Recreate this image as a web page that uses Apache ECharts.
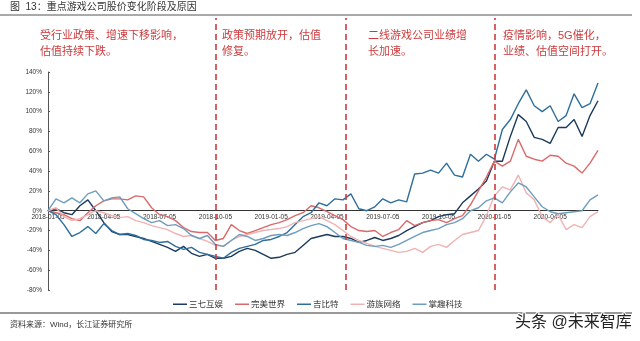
<!DOCTYPE html>
<html>
<head>
<meta charset="utf-8">
<script src="https://cdn.jsdelivr.net/npm/echarts@6/dist/echarts.min.js"></script>
<style>
  html, body { margin: 0; padding: 0; background: #ffffff; }
  #chart { width: 640px; height: 341px; }
</style>
</head>
<body>
<div id="chart"></div>
<script>
// 横轴：每 7 个点为一个季度
var quarterLabels = ['2018-01-05', '2018-04-05', '2018-07-05', '2018-10-05', '2019-01-05',
  '2019-04-05', '2019-07-05', '2019-10-05', '2020-01-05', '2020-04-05'];
var pointsPerQuarter = 7;
var lastIndex = 69;
var yMin = -80, yMax = 140;

var seriesNames = ['三七互娱', '完美世界', '吉比特', '游族网络', '掌趣科技'];
var seriesColors = ['#1c3b5c', '#d96a6b', '#2f6e9c', '#f0b2b2', '#6e9dbd'];

// 涨跌幅 %
var sanqi = [0, 2, -2, -4, 5, 11, 0, -12, -21, -24, -24, -26, -28, -31, -34, -37, -41, -36, -43, -46,
  -44, -48, -48, -46, -41, -38, -40, -44, -48, -47, -44, -42, -35, -28, -26, -24, -26, -26, -28, -32,
  -30, -27, -30, -28, -25, -20, -16, -12, -10, -6, -4, -3, 8, 15, 22, 30, 50, 50, 75, 97,
  90, 74, 72, 68, 84, 84, 92, 75, 96, 111];
var wanmei = [0, -2, -4, -8, -10, -2, 5, 10, 12, 12, 11, 15, 14, 3, -4, -6, -10, -17, -21, -22,
  -22, -30, -28, -14, -20, -23, -20, -17, -14, -12, -9, -5, -2, 5, 3, -1, -5, -9, -16, -20,
  -21, -20, -26, -22, -19, -10, -15, -12, -10, -9, -12, -8, -5, 6, 20, 34, 50, 45, 50, 72,
  55, 52, 50, 56, 55, 48, 45, 38, 48, 61];
var jibite = [0, -4, -14, -26, -22, -16, -23, -13, -20, -24, -23, -25, -29, -30, -32, -31, -36, -39, -37, -42,
  -44, -46, -48, -42, -38, -36, -34, -30, -29, -26, -22, -14, -6, -2, 8, 5, 12, 11, 17, 2,
  0, 4, 12, 8, 11, 9, 37, 38, 41, 38, 48, 36, 34, 57, 50, 57, 52, 82, 92, 108,
  122, 106, 100, 106, 90, 96, 118, 104, 108, 129];
var youzu = [0, 3, -6, -10, -8, -4, 0, -2, -5, -7, -6, -10, -12, -15, -17, -19, -23, -26, -25, -28,
  -31, -35, -36, -30, -26, -24, -22, -20, -19, -18, -16, -12, -10, -8, -6, -10, -14, -20, -26, -30,
  -33, -36, -38, -40, -42, -41, -38, -42, -36, -34, -37, -30, -24, -22, -20, -5, 15, 24, 21, 36,
  18, 11, -6, -12, -4, -19, -14, -17, -6, -1];
var zhangqu = [0, 12, 8, 13, 8, 17, 20, 10, 13, 14, 2, -3, -8, -12, -10, -15, -14, -18, -25, -28,
  -25, -34, -36, -30, -24, -26, -30, -28, -25, -24, -25, -22, -18, -15, -13, -16, -22, -28, -30, -32,
  -35, -36, -35, -37, -34, -30, -26, -22, -20, -18, -14, -12, -8, 0, 3, 10, 13, 8, 19, 28,
  24, 14, 4, -1, -3, -2, -1, 0, 11, 16];
var seriesValues = [sanqi, wanmei, jibite, youzu, zhangqu];

// 阶段分界（横轴位置）
var dividers = [21, 37.3, 56];
var stageTexts = [
  '受行业政策、增速下移影响，\n估值持续下跌。',
  '政策预期放开，估值\n修复。',
  '二线游戏公司业绩增\n长加速。',
  '疫情影响，5G催化，\n业绩、估值空间打开。'
];
var stageTextX = [40, 222, 368, 503];

var red = '#cc3b3d';
var font = "'Liberation Sans', 'Noto Sans CJK SC', sans-serif";
var gridTop = 72, gridBottom = 51, chartHeight = 341;
// 横轴标签放在 0% 线处
var plotHeight = chartHeight - gridTop - gridBottom;
var zeroOffset = plotHeight * (0 - yMin) / (yMax - yMin);

var series = seriesNames.map(function (name, k) {
  return {
    name: name,
    type: 'line',
    symbol: 'none',
    data: seriesValues[k].map(function (v, i) { return [i, v]; }),
    lineStyle: { width: 1.4, color: seriesColors[k] },
    itemStyle: { color: seriesColors[k] },
    z: 3
  };
});
// 分界虚线（第二个 grid，向上延伸到标题线下）
series.push({
  type: 'line',
  xAxisIndex: 1,
  yAxisIndex: 1,
  data: [],
  silent: true,
  markLine: {
    symbol: 'none',
    silent: true,
    label: { show: false },
    lineStyle: { color: red, type: [6, 4], width: 1.6 },
    data: dividers.map(function (d) { return { xAxis: d }; })
  }
});

var graphics = [
  { type: 'text', left: 10, top: 2, style: { text: '图  13：重点游戏公司股价变化阶段及原因', fontSize: 10, fill: '#333', fontFamily: font } },
  { type: 'line', shape: { x1: 0, y1: 15, x2: 632, y2: 15 }, style: { stroke: '#555', lineWidth: 1 } },
  { type: 'line', shape: { x1: 0, y1: 313, x2: 632, y2: 313 }, style: { stroke: '#999', lineWidth: 2 } },
  { type: 'text', left: 10, top: 321, style: { text: '资料来源：Wind，长江证券研究所', fontSize: 8, fill: '#333', fontFamily: font } },
  { type: 'text', left: 514, top: 314, style: { text: '头条 @未来智库', fontSize: 16, fill: '#222', stroke: '#fff', lineWidth: 2, fontFamily: font } }
];
stageTexts.forEach(function (t, k) {
  graphics.push({
    type: 'text', left: stageTextX[k], top: 28,
    style: { text: t, fontSize: 11, lineHeight: 16, fill: red, fontFamily: font }
  });
});

var option = {
  backgroundColor: '#ffffff',
  animation: false,
  textStyle: { fontFamily: font },
  legend: {
    data: seriesNames,
    left: 168,
    top: 295,
    icon: 'rect',
    itemWidth: 14,
    itemHeight: 1.5,
    itemGap: 12,
    textStyle: { fontSize: 8.5, color: '#333', padding: [0, 0, 0, -3] }
  },
  grid: [
    { left: 48, right: 42, top: gridTop, bottom: gridBottom },
    { left: 48, right: 42, top: 18, bottom: gridBottom }
  ],
  xAxis: [
    {
      type: 'value',
      min: 0,
      max: lastIndex,
      interval: pointsPerQuarter,
      offset: -zeroOffset,
      axisLine: { onZero: false, lineStyle: { color: '#333', width: 1 } },
      axisTick: { show: false },
      splitLine: { show: false },
      axisLabel: {
        fontSize: 6.5,
        color: '#333',
        margin: 3,
        formatter: function (v) {
          var q = v / pointsPerQuarter;
          return quarterLabels[q] || '';
        }
      }
    },
    { type: 'value', gridIndex: 1, min: 0, max: lastIndex, show: false }
  ],
  yAxis: [
    {
      type: 'value',
      min: yMin,
      max: yMax,
      interval: 20,
      axisLine: { show: true, lineStyle: { color: '#555' } },
      axisTick: { show: true, inside: true, length: 2, lineStyle: { color: '#555' } },
      splitLine: { show: false },
      axisLabel: { fontSize: 6.5, color: '#333', margin: 6, formatter: '{value}%' }
    },
    { type: 'value', gridIndex: 1, min: 0, max: 1, show: false }
  ],
  graphic: graphics,
  series: series
};

var chart = echarts.init(document.getElementById('chart'), null, { renderer: 'canvas' });
chart.setOption(option);
</script>
</body>
</html>
